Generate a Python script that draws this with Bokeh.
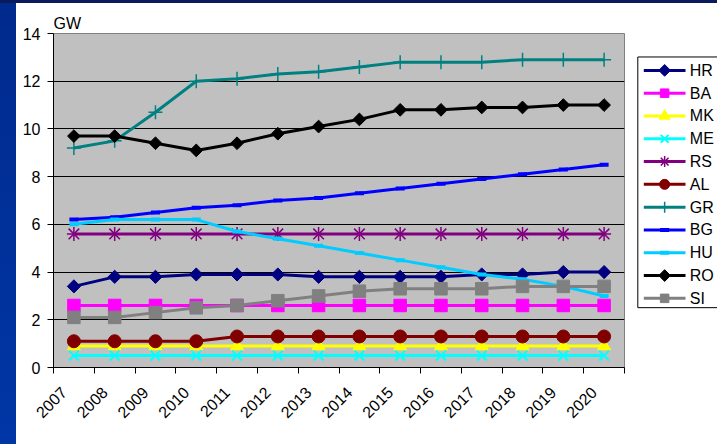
import math

from bokeh.core.properties import value
from bokeh.embed import file_html
from bokeh.layouts import row
from bokeh.models import CustomJSTickFormatter, FixedTicker, Range1d
from bokeh.plotting import figure
from bokeh.resources import INLINE

# Installed generating capacity per country, GW
years = [2007, 2008, 2009, 2010, 2011, 2012, 2013, 2014, 2015, 2016, 2017, 2018, 2019, 2020]
y_ticks = [0, 2, 4, 6, 8, 10, 12, 14]

HR = [3.4, 3.8, 3.8, 3.9, 3.9, 3.9, 3.8, 3.8, 3.8, 3.8, 3.9, 3.9, 4.0, 4.0]
BA = [2.6, 2.6, 2.6, 2.6, 2.6, 2.6, 2.6, 2.6, 2.6, 2.6, 2.6, 2.6, 2.6, 2.6]
MK = [0.9, 0.9, 0.9, 0.9, 0.9, 0.9, 0.9, 0.9, 0.9, 0.9, 0.9, 0.9, 0.9, 0.9]
ME = [0.5, 0.5, 0.5, 0.5, 0.5, 0.5, 0.5, 0.5, 0.5, 0.5, 0.5, 0.5, 0.5, 0.5]
RS = [5.6, 5.6, 5.6, 5.6, 5.6, 5.6, 5.6, 5.6, 5.6, 5.6, 5.6, 5.6, 5.6, 5.6]
AL = [1.1, 1.1, 1.1, 1.1, 1.3, 1.3, 1.3, 1.3, 1.3, 1.3, 1.3, 1.3, 1.3, 1.3]
GR = [9.2, 9.5, 10.7, 12.0, 12.1, 12.3, 12.4, 12.6, 12.8, 12.8, 12.8, 12.9, 12.9, 12.9]
BG = [6.2, 6.3, 6.5, 6.7, 6.8, 7.0, 7.1, 7.3, 7.5, 7.7, 7.9, 8.1, 8.3, 8.5]
HU = [6.0, 6.2, 6.2, 6.2, 5.7, 5.4, 5.1, 4.8, 4.5, 4.2, 3.9, 3.7, 3.4, 3.0]
RO = [9.7, 9.7, 9.4, 9.1, 9.4, 9.8, 10.1, 10.4, 10.8, 10.8, 10.9, 10.9, 11.0, 11.0]
SI = [2.1, 2.1, 2.3, 2.5, 2.6, 2.8, 3.0, 3.2, 3.3, 3.3, 3.3, 3.4, 3.4, 3.4]

FONT = "Liberation Sans"
DIAMOND = math.pi / 4

# (label, values, colour, marker layers on the chart, marker layers in the key)
series = [
    ("HR", HR, "#000080",
     [dict(marker="square", size=9.3, angle=DIAMOND)],
     [dict(marker="square", size=8.3, angle=DIAMOND)]),
    ("BA", BA, "#FF00FF",
     [dict(marker="square", size=12.5)],
     [dict(marker="square", size=8.5)]),
    ("MK", MK, "#FFFF00",
     [dict(marker="triangle", size=13)],
     [dict(marker="triangle", size=11)]),
    ("ME", ME, "#00FFFF",
     [dict(marker="x", size=14, line_width=2)],
     [dict(marker="x", size=11, line_width=2)]),
    ("RS", RS, "#800080",
     [dict(marker="x", size=15, line_width=1.5), dict(marker="cross", size=14, line_width=1.5)],
     [dict(marker="x", size=11, line_width=1.5), dict(marker="cross", size=11, line_width=1.5)]),
    ("AL", AL, "#800000",
     [dict(marker="circle", size=13)],
     [dict(marker="circle", size=10)]),
    ("GR", GR, "#008080",
     [dict(marker="cross", size=14, line_width=1.5)],
     [dict(marker="cross", size=11, line_width=1.5)]),
    ("BG", BG, "#0000FF",
     [dict(marker="dash", size=9, line_width=4)],
     [dict(marker="dash", size=9, line_width=4)]),
    ("HU", HU, "#00CCFF",
     [dict(marker="dash", size=9, line_width=4)],
     [dict(marker="dash", size=9, line_width=4)]),
    ("RO", RO, "#000000",
     [dict(marker="square", size=9, angle=DIAMOND)],
     [dict(marker="square", size=8.3, angle=DIAMOND)]),
    ("SI", SI, "#808080",
     [dict(marker="square", size=12.5)],
     [dict(marker="square", size=8.5)]),
]

LINE_W = 3


def draw_markers(fig, xs, ys, color, layers):
    for layer in layers:
        opts = dict(layer)
        lw = opts.pop("line_width", 1)
        fig.scatter(xs, ys, fill_color=color, line_color=color, line_width=lw, **opts)


# ---------------------------------------------------------------- chart
p = figure(
    width=613, height=441, margin=(3, 0, 0, 16),
    output_backend="svg", toolbar_location=None,
    x_range=Range1d(years[0] - 0.5, years[-1] + 0.5),
    y_range=Range1d(y_ticks[0], y_ticks[-1]),
    min_border_left=37, min_border_top=30, min_border_right=5, min_border_bottom=77,
    background_fill_color="#C0C0C0", border_fill_color="white",
    outline_line_color="#808080", outline_line_width=1,
)

# "GW" unit caption above the value axis
p.title.text = "GW"
p.title.align = "left"
p.title.offset = 0
p.title.standoff = 4
p.title.text_font = FONT
p.title.text_font_size = "16px"
p.title.text_font_style = "normal"
p.title.text_color = "black"

# value axis
p.yaxis.ticker = FixedTicker(ticks=y_ticks)
p.yaxis.major_tick_in = 0
p.yaxis.major_tick_out = 6
p.yaxis.minor_tick_line_color = None
p.yaxis.major_label_standoff = 7
p.yaxis.axis_line_color = "black"
p.yaxis.major_tick_line_color = "black"
p.yaxis.major_label_text_font = FONT
p.yaxis.major_label_text_font_size = "16px"
p.yaxis.major_label_text_color = "black"

# year axis: slanted labels ending just left of each category centre,
# tick marks on the category boundaries
label_shift = 0.25
boundaries = [years[0] - 0.5] + [y + 0.5 for y in years]
p.xaxis.ticker = FixedTicker(ticks=[y - label_shift for y in years], minor_ticks=boundaries)
p.xaxis.formatter = CustomJSTickFormatter(code="return Math.round(tick).toString();")
p.xaxis.major_tick_in = 0
p.xaxis.major_tick_out = 0
p.xaxis.minor_tick_in = 0
p.xaxis.minor_tick_out = 6
p.xaxis.minor_tick_line_color = "black"
p.xaxis.axis_line_color = "black"
p.xaxis.major_label_orientation = math.pi / 4
p.xaxis.major_label_standoff = 16
p.xaxis.major_label_text_font = FONT
p.xaxis.major_label_text_font_size = "16px"
p.xaxis.major_label_text_color = "black"

p.xgrid.visible = False
p.ygrid.ticker = FixedTicker(ticks=y_ticks[1:-1])
p.ygrid.grid_line_color = "black"
p.ygrid.grid_line_width = 1

for label, vals, color, layers, _ in series:
    p.line(years, vals, line_color=color, line_width=LINE_W)
    draw_markers(p, years, vals, color, layers)

# ---------------------------------------------------------------- key
# a separate panel in pixel units (y measured downward from the top)
KW, KH = 88, 441
key = figure(
    width=KW, height=KH, margin=(3, 0, 0, 0),
    output_backend="svg", toolbar_location=None,
    x_range=Range1d(0, KW), y_range=Range1d(KH, 0),
    x_axis_type=None, y_axis_type=None, min_border=0,
    background_fill_color="white", border_fill_color="white", outline_line_color=None,
)
key.xgrid.visible = False
key.ygrid.visible = False

box_left, box_top, box_bottom = 8.3, 31, 362
row_h, first_row = 30.1, 17.7
sw_x0, sw_x1, text_x = 14.3, 56, 60.3

key.quad(left=box_left, right=KW + 5, top=box_top, bottom=box_bottom,
         fill_color="white", line_color="black", line_width=1)

for i, (label, vals, color, _, key_layers) in enumerate(series):
    cy = box_top + first_row + i * row_h
    key.segment(x0=sw_x0, y0=cy, x1=sw_x1, y1=cy, line_color=color, line_width=LINE_W)
    draw_markers(key, [(sw_x0 + sw_x1) / 2], [cy], color, key_layers)
    key.text(x=[text_x], y=[cy], text=[label], text_font=value(FONT),
             text_font_size="16px", text_color="black",
             text_align="left", text_baseline="middle")

# slide backdrop: dark band along the top, blue band down the left, white panel
backdrop = ("linear-gradient(#0a1a5c, #0a1a5c) left top / 100% 3px no-repeat, "
            "linear-gradient(to bottom, #002a8c, #0036a6) left top / 16px 100% no-repeat, "
            "#ffffff")

page = row(p, key, width=717, height=444, styles={"background": backdrop})

open("out.html", "w").write(file_html(page, INLINE))
